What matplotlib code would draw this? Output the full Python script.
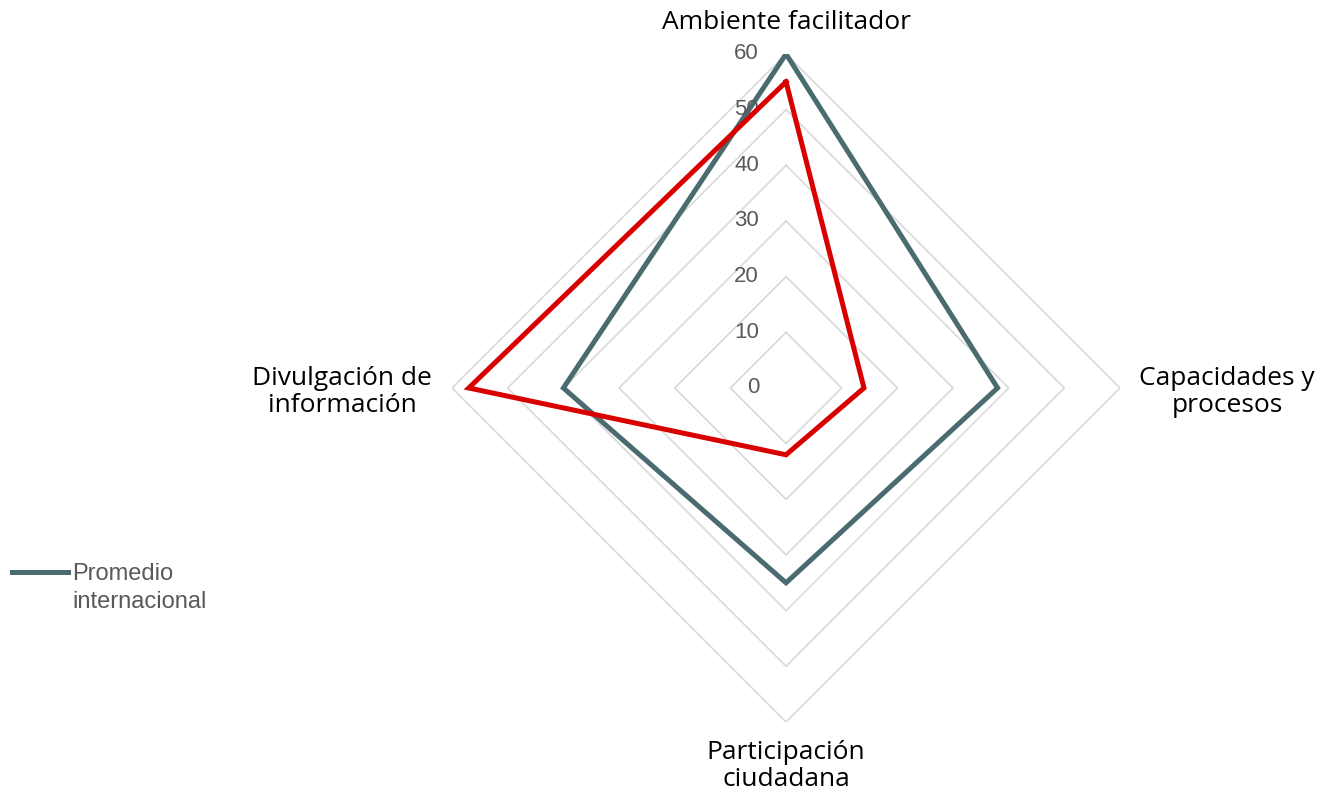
import numpy as np
import matplotlib
matplotlib.use("Agg")
import matplotlib.pyplot as plt

# Datos
categorias = ["Ambiente facilitador", "Capacidades y\nprocesos",
              "Participación\nciudadana", "Divulgación de\ninformación"]
promedio_internacional = [60, 38, 35, 40]
pais = [55, 14, 12, 57]
niveles = [0, 10, 20, 30, 40, 50, 60]

color_gris = "#4a6b70"
color_rojo = "#d90000"
color_grid = "#d9d9d9"
color_texto = "#595959"

fig = plt.figure(figsize=(13.26, 7.94), dpi=100)
ax = fig.add_axes([0.3409, 0.0907, 0.5038, 0.8413], projection="polar")
ax.set_theta_offset(np.pi / 2)
ax.set_theta_direction(-1)
ax.set_ylim(0, 60)

angulos = np.linspace(0, 2 * np.pi, len(categorias), endpoint=False)
angulos_cerr = np.concatenate([angulos, angulos[:1]])

# Rejilla poligonal
for n in niveles[1:]:
    ax.plot(angulos_cerr, [n] * (len(categorias) + 1), color=color_grid, lw=1.2, zorder=1)

def cerrar(v):
    return list(v) + [v[0]]

linea_prom, = ax.plot(angulos_cerr, cerrar(promedio_internacional), color=color_gris,
                      lw=3.6, solid_joinstyle="miter", zorder=3)
ax.plot(angulos_cerr, cerrar(pais), color=color_rojo, lw=3.6,
        solid_joinstyle="miter", zorder=4)

ax.grid(False)
ax.spines["polar"].set_visible(False)
ax.set_xticks([])
ax.set_yticks([])
ax.patch.set_alpha(0)

# Etiquetas de la escala
for n in niveles:
    ax.annotate(str(n), xy=(0, n), xytext=(-27, 0), textcoords="offset pixels",
                ha="right", va="center", fontsize=16, color=color_texto,
                family="Liberation Sans")

# Etiquetas de categorías
fuente_cat = dict(fontsize=19, color="black", family="Open Sans", ha="center",
                  linespacing=1.15)
ax.annotate(categorias[0], xy=(angulos[0], 60), xytext=(0, 31),
            textcoords="offset pixels", va="center", **fuente_cat)
ax.annotate(categorias[1], xy=(angulos[1], 60), xytext=(107, -4),
            textcoords="offset pixels", va="center", **fuente_cat)
ax.annotate(categorias[2], xy=(angulos[2], 60), xytext=(0, -44),
            textcoords="offset pixels", va="center", **fuente_cat)
ax.annotate(categorias[3], xy=(angulos[3], 60), xytext=(-110, -4),
            textcoords="offset pixels", va="center", **fuente_cat)

# Leyenda
fig.legend([linea_prom], ["Promedio"], loc="center left",
           bbox_to_anchor=(12 / 1326, 220 / 794), borderaxespad=0, borderpad=0,
           frameon=False, handlelength=2.37, handletextpad=0.17,
           prop={"family": "Liberation Sans", "size": 17}, labelcolor=color_texto)
fig.text(72 / 1326, (794 - 608) / 794, "internacional", va="baseline", ha="left",
         fontsize=17, family="Liberation Sans", color=color_texto)

fig.savefig("out.png", dpi=100)
